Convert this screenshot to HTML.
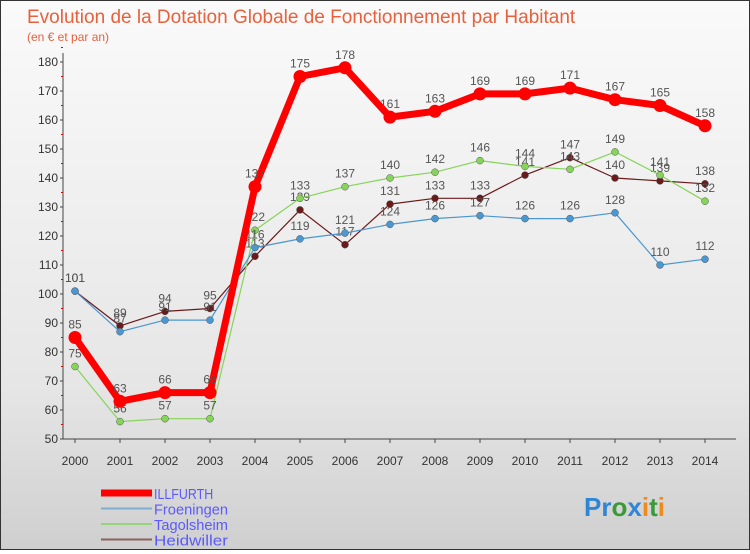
<!DOCTYPE html>
<html><head><meta charset="utf-8"><style>
body{margin:0;width:750px;height:550px;overflow:hidden;font-family:"Liberation Sans",sans-serif}
#wrap{position:relative;width:748px;height:548px;border:1px solid #333;background:linear-gradient(#fafafa,#e6e6e6 70%,#cfcfcf)}
</style></head><body>
<div id="wrap">
<svg id="chart" width="748" height="548"></svg>
</div>
<script>
const years=["2000","2001","2002","2003","2004","2005","2006","2007","2008","2009","2010","2011","2012","2013","2014"];
const illfurth=[85,63,66,66,137,175,178,161,163,169,169,171,167,165,158];
const froeningen=[101,87,91,91,116,119,121,124,126,127,126,126,128,110,112];
const tagolsheim=[75,56,57,57,122,133,137,140,142,146,144,143,149,141,132];
const heidwiller=[101,89,94,95,113,129,117,131,133,133,141,147,140,139,138];
const yTicks=[50,60,70,80,90,100,110,120,130,140,150,160,170,180];
const NS="http://www.w3.org/2000/svg";
const svg=document.getElementById('chart');
const X=i=>74+45*i, Y=v=>438-(v-50)*(377/130);
function el(t,a,txt){const e=document.createElementNS(NS,t);for(const k in a)e.setAttribute(k,a[k]);if(txt!==undefined)e.textContent=txt;svg.appendChild(e);return e;}
let t=el('text',{x:26,y:22,fill:'#e8603c','font-size':19},'Evolution de la Dotation Globale de Fonctionnement par Habitant');


t=el('text',{x:26,y:40,fill:'#e8603c','font-size':12},'(en € et par an)');


let ax=el('line',{x1:62,y1:52,x2:62,y2:438,stroke:'#444'});


ax=el('line',{x1:62,y1:438,x2:735,y2:438,stroke:'#444'});


yTicks.forEach(v=>{
 const tl=el('text',{x:57,y:Y(v)+4,'text-anchor':'end','font-size':12,fill:'#333'},v);
 
 
 el('line',{x1:59,y1:Y(v),x2:62,y2:Y(v),stroke:'#444'});
 el('line',{x1:60,y1:Y(v+5),x2:62,y2:Y(v+5),stroke:'#d00'});
});
years.forEach((y,i)=>{
 const tl=el('text',{x:X(i),y:464,'text-anchor':'middle','font-size':12,fill:'#333'},y);
 
 
 el('line',{x1:X(i),y1:438,x2:X(i),y2:442,stroke:'#444'});
});
const series=[
 {name:'heidwiller',d:heidwiller,c:'#6b1a1a',w:1.2,r:3.5},
 {name:'tagolsheim',d:tagolsheim,c:'#86d45a',w:1.2,r:3.5},
 {name:'froeningen',d:froeningen,c:'#4b97d1',w:1.2,r:3.5},
 {name:'illfurth',d:illfurth,c:'#ff0000',w:7,r:6.5}];
series.forEach(s=>{
 const p=el('polyline',{points:s.d.map((v,i)=>X(i)+','+Y(v)).join(' '),fill:'none',stroke:s.c,'stroke-width':s.w,'stroke-linejoin':'round'});
 
 
 s.d.forEach((v,i)=>{
  const c=el('circle',{cx:X(i),cy:Y(v),r:s.r,fill:s.c,stroke:s.w>2?'none':'#555','stroke-width':0.5});
  
  
  const l=el('text',{x:X(i),y:Y(v)-9,'text-anchor':'middle','font-size':12,fill:'#555'},v);
  
  
 });
});
const leg=[['ILLFURTH','#ff0000',7],['Froeningen','#7eaed0',2],['Tagolsheim','#98d47a',2],['Heidwiller','#8a6060',2]];
leg.forEach((g,i)=>{
 const yy=492+i*15.5;
 const ln=el('line',{x1:100,y1:yy,x2:151,y2:yy,stroke:g[1],'stroke-width':g[2]});
 
 
 const tx=el('text',{x:153,y:yy+6,'font-size':15,fill:'#5a5aff',textLength:g[0].length*7.4,lengthAdjust:'spacingAndGlyphs'},g[0]);
 
 
});
const logo=el('text',{x:583,y:515,'font-size':26,'font-weight':'bold','font-family':'"Liberation Sans",sans-serif'});


[['Pr','#2f86d6'],['o','#3a9a3a'],['x','#2f86d6'],['i','#f08a1a'],['t','#3a9a3a'],['i','#f08a1a']].forEach(p=>{const s=document.createElementNS(NS,'tspan');s.setAttribute('fill',p[1]);s.textContent=p[0];logo.appendChild(s);});
</script>
</body></html>
